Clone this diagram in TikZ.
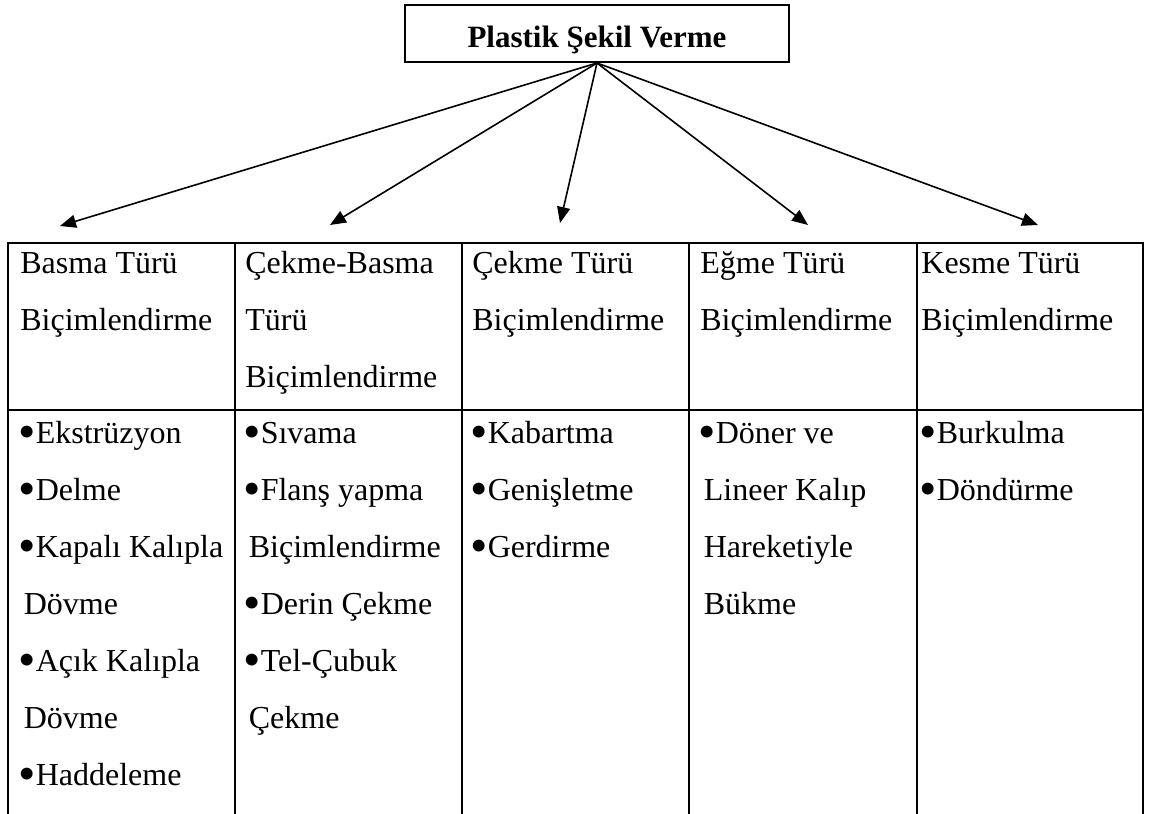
\documentclass[tikz,border=0pt]{standalone}
\usepackage{fontspec}
\usepackage{graphicx}
\setmainfont{Liberation Serif}
\usetikzlibrary{arrows.meta}
\newcommand{\ind}{\hspace*{0.17em}}
\newcommand{\bul}{\raisebox{-0.15em}{\scalebox{1.55}{•}}}

\begin{document}
\begin{tikzpicture}[x=0.5pt, y=-0.5pt,
  font=\fontsize{16}{28.5}\selectfont,
  titlebox/.style={draw, line width=1pt, minimum width=192pt, minimum height=28.5pt,
                   text height=13.5pt, text depth=0pt, font=\fontsize{15.5}{28.5}\selectfont\bfseries},
  cell/.style={anchor=north west, align=left, inner sep=0pt},
  arr/.style={-{Triangle[length=8pt, width=6.5pt]}, line width=0.8pt},
  rule/.style={line width=1pt}]
  \useasboundingbox (0,0) rectangle (1153,814);
  % Title
  \node[titlebox] (plastik) at (597,33.5) {Plastik Şekil Verme};
  % Arrow ends above the table
  \coordinate (tBasma)  at (60,226);
  \coordinate (tCekBas) at (330,225);
  \coordinate (tCekme)  at (560,223);
  \coordinate (tEgme)   at (808,225);
  \coordinate (tKesme)  at (1038,225);
  % Arrows
  \draw[arr] (plastik.south) -- (tBasma);
  \draw[arr] (plastik.south) -- (tCekBas);
  \draw[arr] (plastik.south) -- (tCekme);
  \draw[arr] (plastik.south) -- (tEgme);
  \draw[arr] (plastik.south) -- (tKesme);
  % Table rules
  \draw[rule] (7.5,814) -- (7.5,243) -- (1143,243) -- (1143,814);
  \draw[rule] (7.5,410) -- (1143,410);
  \foreach \x in {235,462,689,917}
    \draw[rule] (\x,243) -- (\x,814);
  % Header row
  \node[cell] (basmaH)  at (20,233)  {\strut Basma Türü\\Biçimlendirme};
  \node[cell] (cekbasH) at (245,233) {\strut Çekme-Basma\\Türü\\Biçimlendirme};
  \node[cell] (cekmeH)  at (472,233) {\strut Çekme Türü\\Biçimlendirme};
  \node[cell] (egmeH)   at (700,233) {\strut Eğme Türü\\Biçimlendirme};
  \node[cell] (kesmeH)  at (921,233) {\strut Kesme Türü\\Biçimlendirme};
  % Body row
  \node[cell] (basmaB)  at (18,403)  {\strut\bul Ekstrüzyon\\\bul Delme\\\bul Kapalı Kalıpla\\\ind Dövme\\\bul Açık Kalıpla\\\ind Dövme\\\bul Haddeleme};
  \node[cell] (cekbasB) at (243,403) {\strut\bul Sıvama\\\bul Flanş yapma\\\ind Biçimlendirme\\\bul Derin Çekme\\\bul Tel-Çubuk\\\ind Çekme};
  \node[cell] (cekmeB)  at (470,403) {\strut\bul Kabartma\\\bul Genişletme\\\bul Gerdirme};
  \node[cell] (egmeB)   at (698,403) {\strut\bul Döner ve\\\ind Lineer Kalıp\\\ind Hareketiyle\\\ind Bükme};
  \node[cell] (kesmeB)  at (919,403) {\strut\bul Burkulma\\\bul Döndürme};
\end{tikzpicture}
\end{document}
